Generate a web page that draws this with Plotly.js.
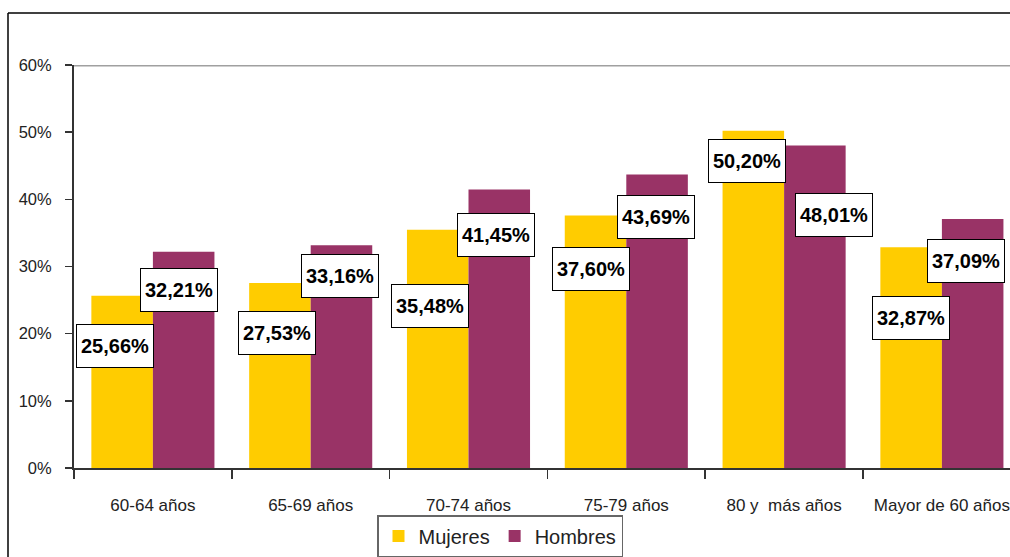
<!DOCTYPE html>
<html>
<head>
<meta charset="utf-8">
<script src="https://cdn.plot.ly/plotly-3.0.1.min.js"></script>
<style>
html,body{margin:0;padding:0;background:#fff;overflow:hidden;}
#chart{width:1010px;height:557px;}
</style>
</head>
<body>
<div id="chart"></div>
<script>
// ---- data ----
var categories = ["60-64 años", "65-69 años", "70-74 años", "75-79 años", "80 y  más años", "Mayor de 60 años"];
var mujeres = [25.66, 27.53, 35.48, 37.60, 50.20, 32.87];
var hombres = [32.21, 33.16, 41.45, 43.69, 48.01, 37.09];
var seriesNames = ["Mujeres", "Hombres"];
var yTickVals = [0, 10, 20, 30, 40, 50, 60];
var yTickText = ["0%", "10%", "20%", "30%", "40%", "50%", "60%"];

// label placement (manual offsets in px, as in the original chart)
var mujDx = [-7, -3, -8, -5, -6, 0];
var mujDy = [50, 50, 76, 54, 30, 71];
var homDx = [-5, -1, -3, -1, 19, -7];
var homDy = [38, 31, 45, 42, 69, 42];

function fmt(v) { return v.toFixed(2).replace(".", ",") + "%"; }

var BARGAP = 0.22;
var half = (1 - BARGAP) / 4;

var FONT = "Liberation Sans, Arial, sans-serif";

var traces = [
  {type: "bar", name: seriesNames[0], x: categories, y: mujeres,
   marker: {color: "#FFCC00"}, hoverinfo: "none"},
  {type: "bar", name: seriesNames[1], x: categories, y: hombres,
   marker: {color: "#993366"}, hoverinfo: "none"}
];

var annotations = [];
function addLabels(vals, dxs, dys, side) {
  vals.forEach(function (v, i) {
    annotations.push({
      x: i + side * half, y: v, xref: "x", yref: "y",
      xshift: dxs[i], yshift: -dys[i],
      text: "<b>" + fmt(v) + "</b>", showarrow: false,
      font: {family: FONT, size: 20, color: "#000"},
      bgcolor: "#ffffff", bordercolor: "#000", borderwidth: 1, borderpad: 2,
      width: 72, height: 38, xanchor: "center", yanchor: "middle"
    });
  });
}
addLabels(mujeres, mujDx, mujDy, -1);
addLabels(hombres, homDx, homDy, 1);

// plot area geometry helpers for frame (paper coords)
var L = 74, T = 65, W = 1010, H = 557, B = 89;
var pw = W - L, ph = H - T - B;
function px2paperX(px) { return (px - L) / pw; }
function px2paperY(py) { return (H - B - py) / ph; }

var shapes = [
  // gray line at top of plot area (60%)
  {type: "line", xref: "paper", yref: "y", x0: 0, x1: 1, y0: 60, y1: 60,
   line: {color: "#a0a0a0", width: 3}},
  // outer frame (left + top)
  {type: "line", xref: "paper", yref: "paper",
   x0: px2paperX(8), x1: px2paperX(8), y0: px2paperY(13), y1: px2paperY(570),
   line: {color: "#000", width: 1.5}},
  {type: "line", xref: "paper", yref: "paper",
   x0: px2paperX(8), x1: px2paperX(1020), y0: px2paperY(13), y1: px2paperY(13),
   line: {color: "#000", width: 1.5}}
];

var layout = {
  width: W, height: H,
  margin: {l: L, r: 0, t: T, b: B, pad: 0},
  paper_bgcolor: "#fff", plot_bgcolor: "#fff",
  barmode: "group", bargap: BARGAP, bargroupgap: 0,
  font: {family: FONT, color: "#222"},
  showlegend: true,
  legend: {
    orientation: "h", x: px2paperX(377), y: px2paperY(515),
    xanchor: "left", yanchor: "top",
    bgcolor: "#fff", bordercolor: "#666", borderwidth: 1.5,
    font: {family: FONT, size: 20, color: "#222"},
    itemwidth: 30, traceorder: "normal"
  },
  xaxis: {
    type: "category", range: [-0.5, -0.5 + pw / 157.8],
    showline: true, linecolor: "#333", linewidth: 2,
    ticks: "outside", tickson: "boundaries", ticklen: 9, tickcolor: "#333", tickwidth: 1.5,
    tickfont: {family: FONT, size: 17, color: "#222"},
    ticklabelstandoff: 21,
    showgrid: false, zeroline: false, fixedrange: true
  },
  yaxis: {
    range: [0, 60], tickvals: yTickVals, ticktext: yTickText,
    showline: true, linecolor: "#333", linewidth: 2,
    ticks: "outside", ticklen: 7, tickcolor: "#333", tickwidth: 1.5,
    tickfont: {family: FONT, size: 16.5, color: "#222"},
    ticklabelstandoff: 10,
    showgrid: false, zeroline: false, fixedrange: true
  },
  annotations: annotations,
  shapes: shapes
};

Plotly.newPlot("chart", traces, layout, {staticPlot: true, displayModeBar: false});
</script>
</body>
</html>
